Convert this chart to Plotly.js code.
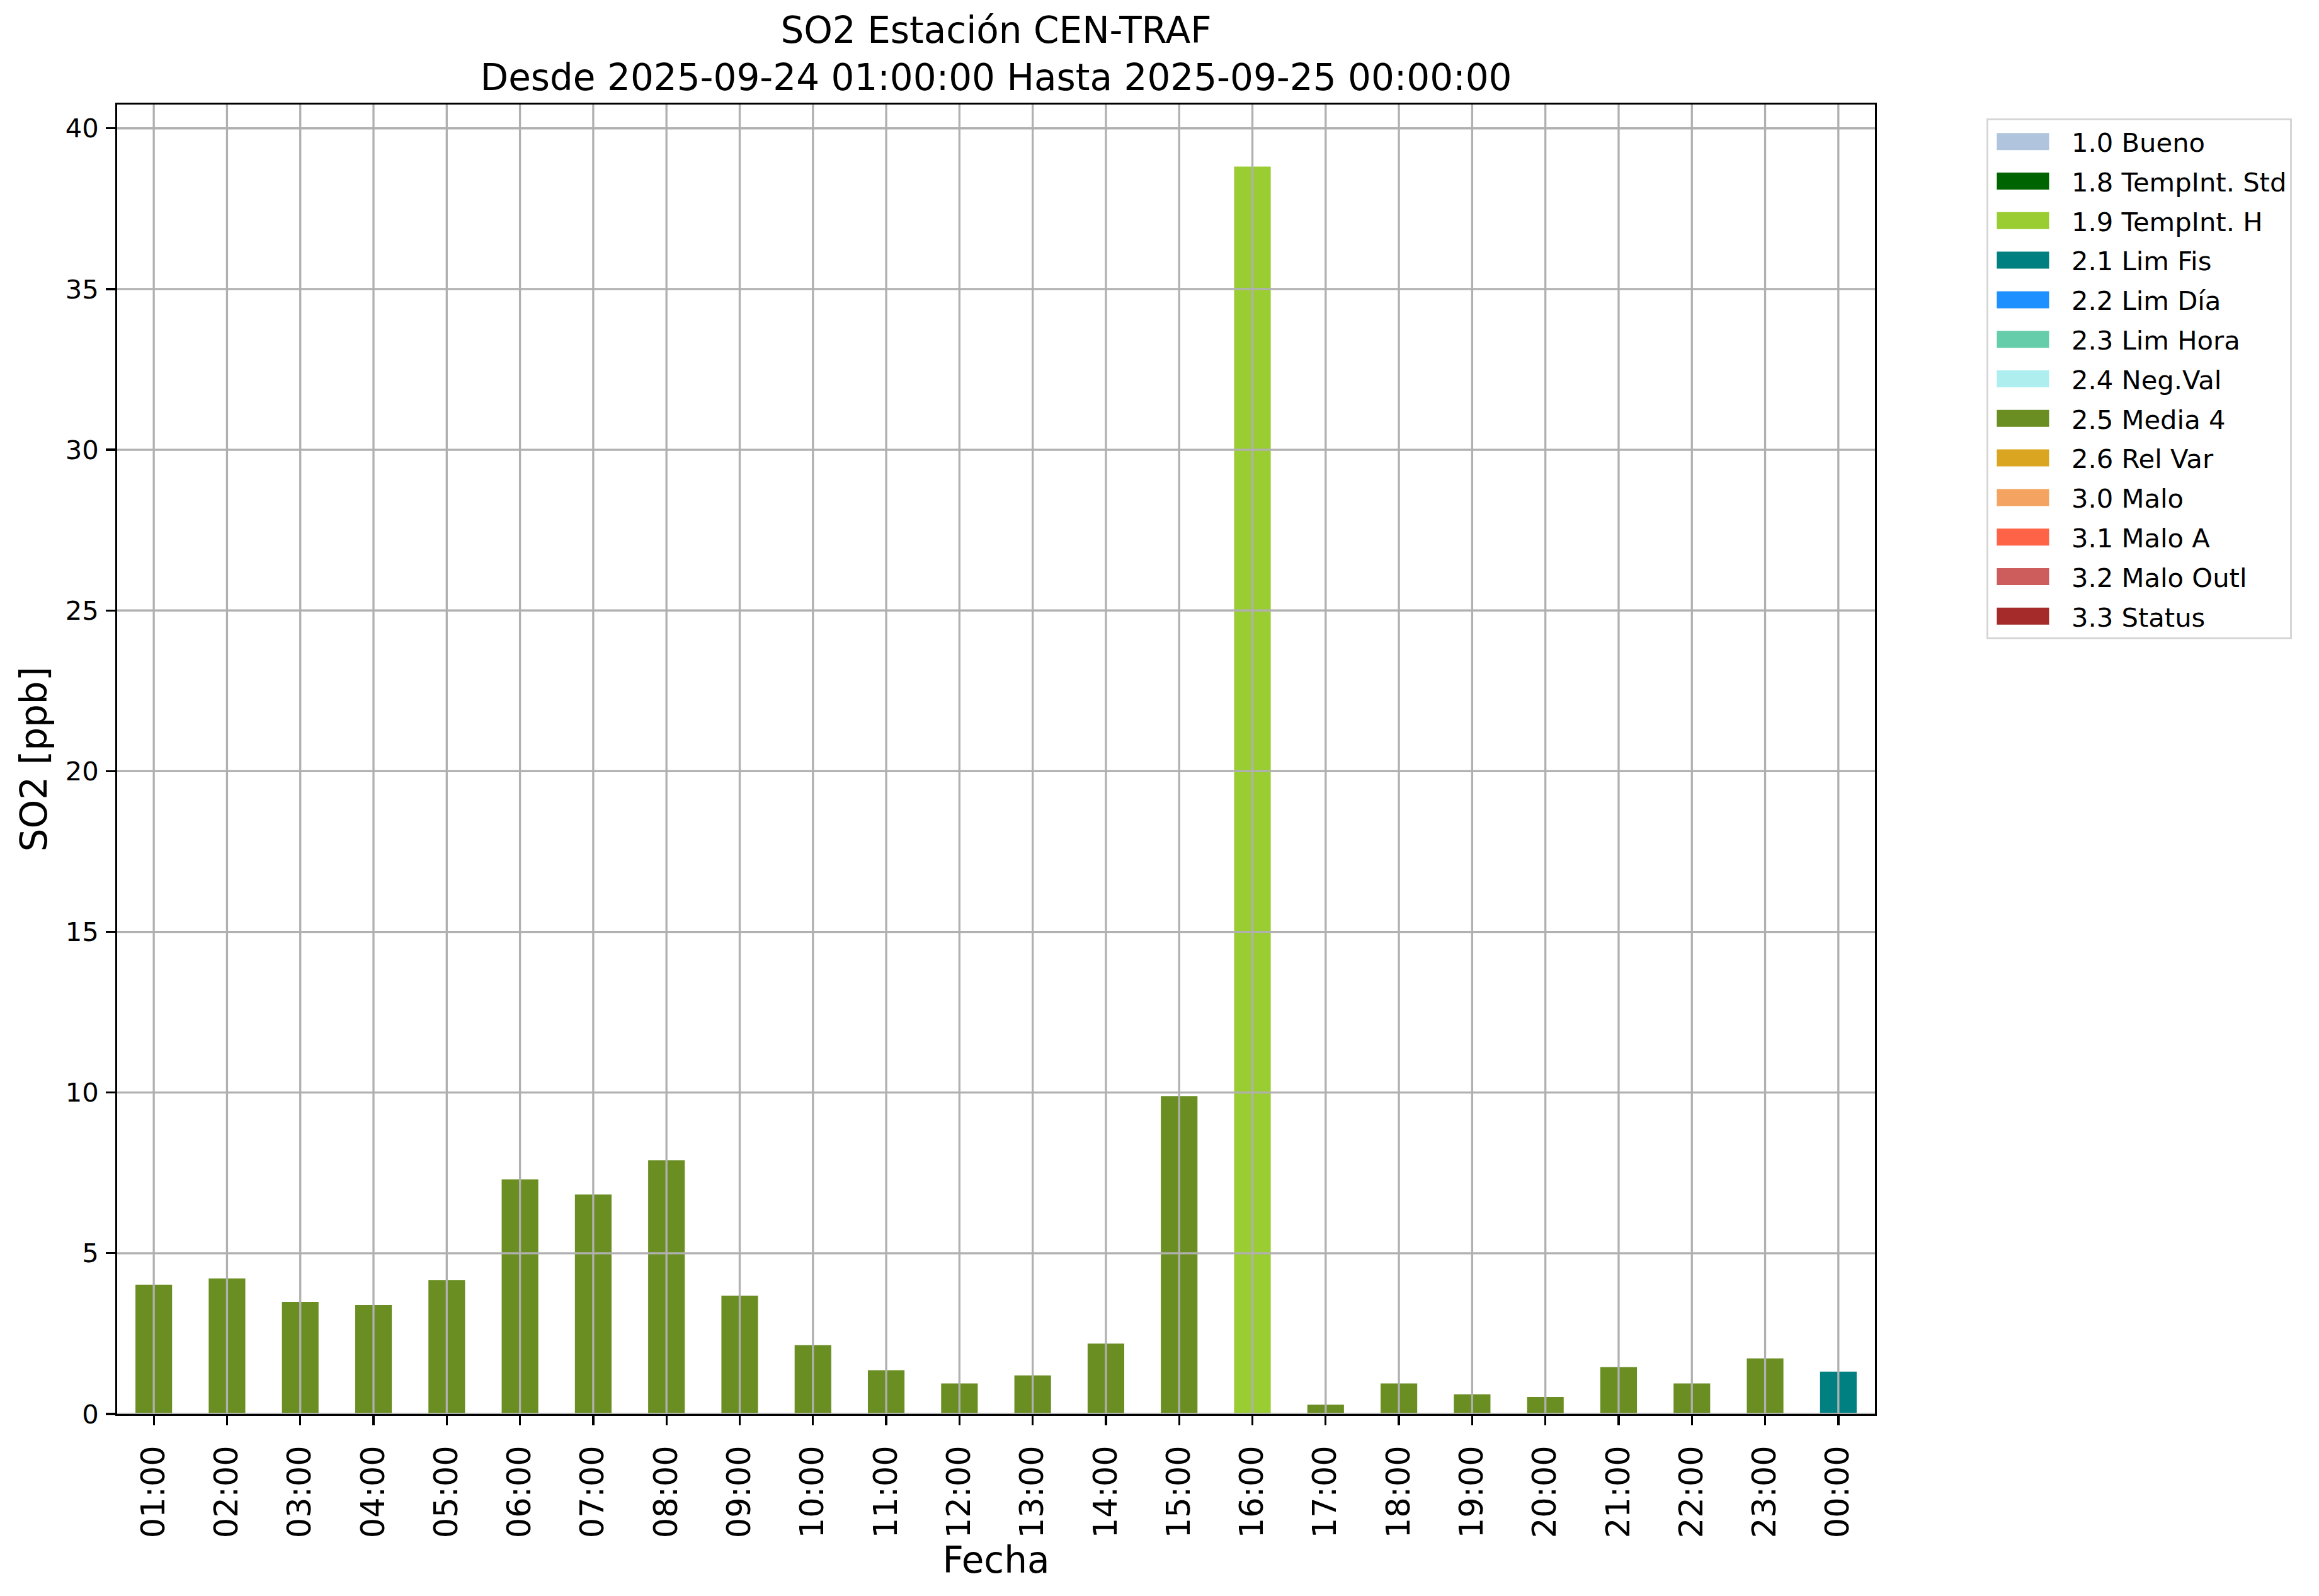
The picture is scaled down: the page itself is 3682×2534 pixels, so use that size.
<!DOCTYPE html>
<html>
<head>
<meta charset="utf-8">
<script src="https://cdn.plot.ly/plotly-3.0.1.min.js"></script>
<style>html,body{margin:0;padding:0;background:#fff;}#chart{width:3682px;height:2534px;}</style>
</head>
<body>
<div id="chart"></div>
<script>
// ---- data ----
const hours = ['01:00','02:00','03:00','04:00','05:00','06:00','07:00','08:00','09:00','10:00','11:00','12:00',
               '13:00','14:00','15:00','16:00','17:00','18:00','19:00','20:00','21:00','22:00','23:00','00:00'];
const so2Values = [4.02, 4.22, 3.49, 3.39, 4.17, 7.30, 6.83, 7.89, 3.68, 2.14, 1.36, 0.95,
                   1.20, 2.19, 9.89, 38.81, 0.29, 0.95, 0.61, 0.53, 1.46, 0.95, 1.73, 1.32];
const hourFlags = ['2.5 Media 4','2.5 Media 4','2.5 Media 4','2.5 Media 4','2.5 Media 4','2.5 Media 4',
                   '2.5 Media 4','2.5 Media 4','2.5 Media 4','2.5 Media 4','2.5 Media 4','2.5 Media 4',
                   '2.5 Media 4','2.5 Media 4','2.5 Media 4','1.9 TempInt. H','2.5 Media 4','2.5 Media 4',
                   '2.5 Media 4','2.5 Media 4','2.5 Media 4','2.5 Media 4','2.5 Media 4','2.1 Lim Fis'];
const flagNames = ['1.0 Bueno','1.8 TempInt. Std','1.9 TempInt. H','2.1 Lim Fis','2.2 Lim Día','2.3 Lim Hora',
                   '2.4 Neg.Val','2.5 Media 4','2.6 Rel Var','3.0 Malo','3.1 Malo A','3.2 Malo Outl','3.3 Status'];
const flagColors = ['#B0C4DE','#006400','#9ACD32','#008080','#1E90FF','#66CDAA',
                    '#AFEEEE','#6B8E23','#DAA520','#F4A460','#FF6347','#CD5C5C','#A52A2A'];
const yTickVals = [0,5,10,15,20,25,30,35,40];

// ---- traces ----
const FONT = 'DejaVu Sans, Liberation Sans, sans-serif';
const traces = flagNames.map((name, i) => ({
  type: 'bar',
  name: name,
  x: hours,
  y: so2Values.map((v, k) => hourFlags[k] === name ? v : null),
  width: 0.5,
  marker: {color: flagColors[i], line: {width: 0}},
  legendgroup: 'g' + i,
  hoverinfo: 'x+y+name'
}));

// grid lines drawn above bars (as matplotlib does), positioned through the axes
const gridColor = '#b0b0b0', gridW = 3.3;
const shapes = [];
hours.forEach(h => shapes.push({type:'line', layer:'above', xref:'x', yref:'paper', x0:h, x1:h, y0:0, y1:1,
                                 line:{color:gridColor, width:gridW}}));
yTickVals.forEach(t => shapes.push({type:'line', layer:'above', xref:'paper', yref:'y', x0:0, x1:1, y0:t, y1:t,
                                 line:{color:gridColor, width:gridW}}));

const layout = {
  width: 3682, height: 2534,
  paper_bgcolor: '#ffffff', plot_bgcolor: '#ffffff',
  font: {family: FONT, color: '#000', size: 42},
  margin: {l: 186, r: 705, t: 166, b: 289, pad: 0},
  title: {
    text: 'SO2 Estación CEN-TRAF<br>Desde 2025-09-24 01:00:00 Hasta 2025-09-25 00:00:00',
    font: {family: FONT, size: 58, color: '#000'},
    x: 0.5, xanchor: 'center', xref: 'paper',
    y: 1 - 68/2534, yanchor: 'top', yref: 'container'
  },
  barmode: 'overlay',
  showlegend: true,
  legend: {
    x: 1.0634, xanchor: 'left', y: 0.9894, yanchor: 'top',
    font: {family: FONT, size: 41.7, color: '#000'},
    bgcolor: '#ffffff', bordercolor: '#d6d6d6', borderwidth: 3,
    traceorder: 'grouped', tracegroupgap: 5.6, itemwidth: 122,
    itemclick: false, itemdoubleclick: false
  },
  xaxis: {
    type: 'category', range: [-0.5, 23.5],
    title: {text: 'Fecha', font: {family: FONT, size: 58}, standoff: 16},
    tickangle: -90, tickfont: {family: FONT, size: 51},
    showgrid: false, zeroline: false,
    showline: true, mirror: true, linecolor: '#000', linewidth: 3.3,
    ticks: 'outside', ticklen: 14.6, tickwidth: 3.3, tickcolor: '#000',
    ticklabelstandoff: 12, automargin: false
  },
  yaxis: {
    range: [0, 40.74], tickvals: yTickVals, ticktext: yTickVals.map(String),
    title: {text: 'SO2 [ppb]', font: {family: FONT, size: 58}, standoff: 11},
    tickfont: {family: FONT, size: 41.7},
    showgrid: false, zeroline: false,
    showline: true, mirror: true, linecolor: '#000', linewidth: 3.3,
    ticks: 'outside', ticklen: 14.6, tickwidth: 3.3, tickcolor: '#000',
    ticklabelstandoff: 3, automargin: false
  },
  shapes: shapes
};

Plotly.newPlot('chart', traces, layout, {displayModeBar: false, responsive: false, staticPlot: true}).then(gd => {
  // widen legend colour patches to matplotlib-like rectangles
  gd.querySelectorAll('.legend .legendpoints path').forEach(p => {
    p.setAttribute('d', 'M-52.5,-13.5h83v27h-83Z');
  });
});
</script>
</body>
</html>
